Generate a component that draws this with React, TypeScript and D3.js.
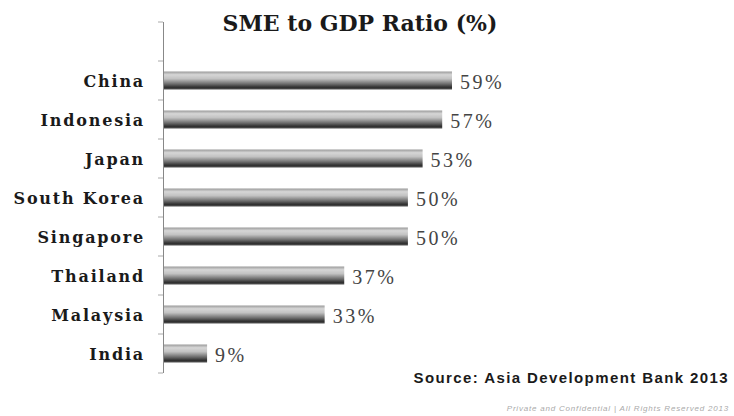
import React from "react";
import * as d3 from "d3";

const categories = ["China", "Indonesia", "Japan", "South Korea", "Singapore", "Thailand", "Malaysia", "India"];
const values = [59, 57, 53, 50, 50, 37, 33, 9];
const title = "SME to GDP Ratio (%)";
const source = "Source: Asia Development Bank 2013";
const footer = "Private and Confidential  |  All Rights Reserved 2013";

export default function App() {
  const W = 734, H = 416;
  const x = d3.scaleLinear().domain([0, 59]).range([163, 452]);
  const domain = ["__top", ...categories];
  const y = d3.scaleBand<string>().domain(domain).range([22, 373]).padding(0);
  const bw = y.bandwidth();
  const barH = 18;
  const tickYs = d3.range(domain.length + 1).map((i) => 22 + i * bw);
  return (
    <svg width={W} height={H} style={{ position: "absolute", left: 0, top: 0, background: "#fff" }}>
      <defs>
        <linearGradient id="barGrad" x1="0" y1="0" x2="0" y2="1">
          <stop offset="0%" stopColor="#9a9a9a" />
          <stop offset="18%" stopColor="#d6d6d6" />
          <stop offset="40%" stopColor="#c2c2c2" />
          <stop offset="70%" stopColor="#6a6a6a" />
          <stop offset="88%" stopColor="#2e2e2e" />
          <stop offset="100%" stopColor="#555" />
        </linearGradient>
      </defs>
      <text x={360} y={31} textAnchor="middle" fontFamily="'DejaVu Serif', serif" fontWeight="bold" fontSize={22} fill="#1a1a1a">
        {title}
      </text>
      <line x1={163.5} x2={163.5} y1={22} y2={373} stroke="#888" strokeWidth={1} />
      {tickYs.map((ty, i) => (
        <line key={i} x1={158} x2={163} y1={ty} y2={ty} stroke="#aaa" strokeWidth={1} />
      ))}
      {categories.map((c, i) => {
        const cy = (y(c) as number) + bw / 2;
        return (
          <g key={c}>
            <rect x={x(0) + 1} y={cy - barH / 2} width={x(values[i]) - x(0) - 1} height={barH} fill="url(#barGrad)" />
            <text x={145} y={cy + 6} textAnchor="end" fontFamily="'DejaVu Serif', serif" fontWeight="bold" fontSize={16} letterSpacing={1.8} fill="#1a1a1a">
              {c}
            </text>
            <text x={x(values[i]) + 8} y={cy + 8} fontFamily="'Liberation Serif', serif" fontSize={20} letterSpacing={2.5} fill="#444">
              {values[i] + "%"}
            </text>
          </g>
        );
      })}
      <text x={729} y={383} textAnchor="end" fontFamily="'Liberation Sans', Arial, sans-serif" fontWeight="bold" fontSize={15} letterSpacing={1.4} fill="#1a1a1a">
        {source}
      </text>
      <text x={729} y={411} textAnchor="end" fontFamily="'Liberation Sans', Arial, sans-serif" fontStyle="italic" fontSize={8} letterSpacing={0.8} fill="#aaa">
        {footer}
      </text>
    </svg>
  );
}
